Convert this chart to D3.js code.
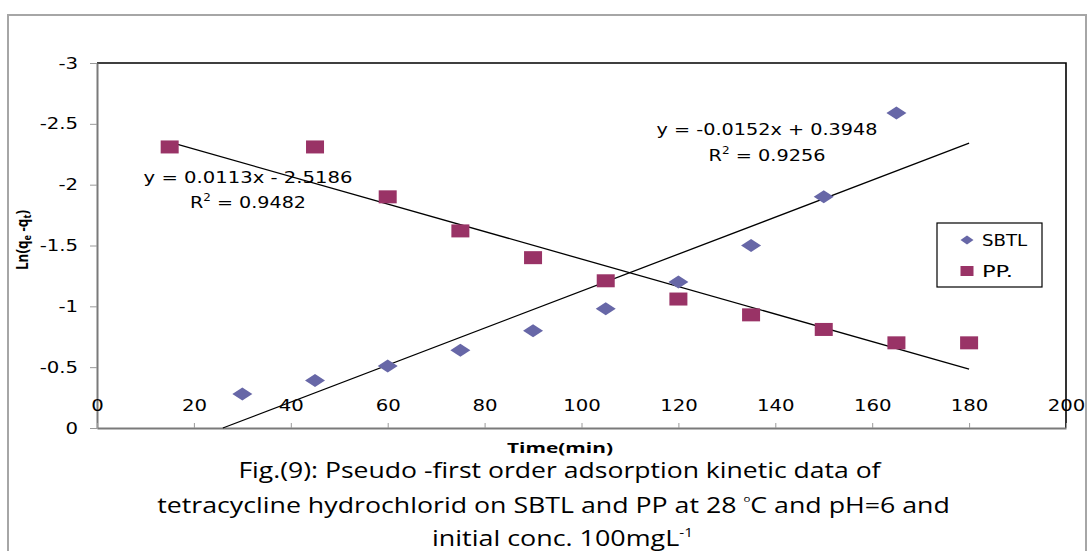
<!DOCTYPE html>
<html>
<head>
<meta charset="utf-8">
<script src="https://cdn.jsdelivr.net/npm/d3@7"></script>
<style>
  body { margin: 0; background: #fff; }
  text { fill: #000; }
</style>
</head>
<body>
<svg width="1087" height="551"></svg>
<script>
// values
const sbtlTime = [30, 45, 60, 75, 90, 105, 120, 135, 150, 165]
const sbtlLn = [-0.28, -0.39, -0.51, -0.64, -0.80, -0.98, -1.20, -1.50, -1.90, -2.59]
const ppTime = [15, 45, 60, 75, 90, 105, 120, 135, 150, 165, 180]
const ppLn = [-2.31, -2.31, -1.90, -1.62, -1.40, -1.21, -1.06, -0.93, -0.81, -0.70, -0.70]

const seriesNames = ['SBTL', 'PP.']
const fitSlope = [-0.0152, 0.0113]
const fitIntercept = [0.3948, -2.5186]
const fitR2 = ['0.9256', '0.9482']
const fitEnd = [180, 180]

const xTicks = [0, 20, 40, 60, 80, 100, 120, 140, 160, 180, 200]
const yTicks = [0, -0.5, -1, -1.5, -2, -2.5, -3]

const svg = d3.select('svg')

const x = d3.scaleLinear().domain([0, 200]).range([97, 1066])
const y = d3.scaleLinear().domain([0, -3]).range([428, 63])

const colors = ['#6767A7', '#993366']

// stretch a text horizontally about its anchor point
const stretch = (sel, k) => sel.each(function () {
    const ax = +this.getAttribute('x') || 0
    d3.select(this).attr('transform', `translate(${ax},0) scale(${k},1) translate(${-ax},0)`)
})
const fit = (sel, width) => sel.each(function () {
    const w = this.getBBox().width
    stretch(d3.select(this), width / w)
})

// outer chart border
svg.append('rect')
    .attr('x', 8).attr('y', 15)
    .attr('width', 1078).attr('height', 600)
    .attr('fill', 'none')
    .attr('stroke', '#a6a6a6')
    .attr('stroke-width', 2)

// plot border (top / right)
svg.append('path')
    .attr('d', `M${x(0)},${y(-3)} H${x(200)} V${y(0)}`)
    .attr('fill', 'none')
    .attr('stroke', '#000')
    .attr('stroke-width', 1.6)

// y axis
const yAxis = svg.append('g')
    .attr('transform', `translate(${x(0)},0)`)
    .call(d3.axisLeft(y).tickValues(yTicks).tickSize(7).tickPadding(12)
        .tickSizeOuter(0).tickFormat(d => String(d)))
yAxis.select('.domain').attr('stroke', '#7a7a7a').attr('stroke-width', 2)
yAxis.selectAll('.tick line').attr('stroke', '#9a9a9a')
yAxis.selectAll('.tick text')
    .attr('font-family', 'DejaVu Sans').attr('font-size', 16).attr('fill', '#000')
    .call(stretch, 1.23)

// x axis: labels sit above the axis line, ticks point inward
const xAxis = svg.append('g')
    .attr('transform', `translate(0,${y(0)})`)
    .call(d3.axisTop(x).tickValues(xTicks).tickSize(5).tickPadding(12).tickSizeOuter(0))
xAxis.select('.domain').attr('stroke', '#7a7a7a').attr('stroke-width', 2)
xAxis.selectAll('.tick line').attr('stroke', '#9a9a9a')
xAxis.selectAll('.tick text')
    .attr('font-family', 'DejaVu Sans').attr('font-size', 16).attr('fill', '#000')
    .call(stretch, 1.23)

// trendlines
const fitLines = fitSlope.map((m, i) => {
    const b = fitIntercept[i]
    const x0 = i === 0 ? -b / m : ppTime[0]
    return [[x0, m * x0 + b], [fitEnd[i], m * fitEnd[i] + b]]
})
svg.append('g')
    .selectAll('path')
    .data(fitLines)
    .join('path')
        .attr('d', d3.line().x(d => x(d[0])).y(d => y(d[1])))
        .attr('stroke', '#000')
        .attr('stroke-width', 1.3)
        .attr('fill', 'none')

// markers
const diamond = (w, h) => `M0,${-h / 2}L${w / 2},0L0,${h / 2}L${-w / 2},0Z`

svg.append('g')
    .selectAll('path')
    .data(sbtlTime.map((t, i) => [t, sbtlLn[i]]))
    .join('path')
        .attr('transform', d => `translate(${x(d[0])},${y(d[1])})`)
        .attr('d', diamond(20, 13))
        .attr('fill', colors[0])

svg.append('g')
    .selectAll('rect')
    .data(ppTime.map((t, i) => [t, ppLn[i]]))
    .join('rect')
        .attr('x', d => x(d[0]) - 9)
        .attr('y', d => y(d[1]) - 6.5)
        .attr('width', 18)
        .attr('height', 13)
        .attr('fill', colors[1])

// equations
const eqText = i => {
    const m = fitSlope[i], b = fitIntercept[i]
    return `y = ${m}x ${b < 0 ? '-' : '+'} ${Math.abs(b)}`
}
const eqPos = [
    { cx: 767, y1: 135, w1: 221, y2: 161, w2: 117 },
    { cx: 248, y1: 183, w1: 209, y2: 208, w2: 116 }
]
eqPos.forEach((p, i) => {
    svg.append('text')
        .attr('x', p.cx).attr('y', p.y1)
        .attr('text-anchor', 'middle')
        .attr('font-family', 'DejaVu Sans').attr('font-size', 16)
        .text(eqText(i))
        .call(fit, p.w1)
    const r = svg.append('text')
        .attr('x', p.cx).attr('y', p.y2)
        .attr('text-anchor', 'middle')
        .attr('font-family', 'DejaVu Sans').attr('font-size', 16)
    r.append('tspan').text('R')
    r.append('tspan').attr('dy', -7).attr('font-size', 10).text('2')
    r.append('tspan').attr('dy', 7).text(` = ${fitR2[i]}`)
    r.call(fit, p.w2)
})

// legend
const legend = svg.append('g')
legend.append('rect')
    .attr('x', 937).attr('y', 223)
    .attr('width', 105).attr('height', 64)
    .attr('fill', '#fff')
    .attr('stroke', '#000')
    .attr('stroke-width', 1.2)
legend.append('path')
    .attr('transform', 'translate(967,240)')
    .attr('d', diamond(13, 9))
    .attr('fill', colors[0])
legend.append('rect')
    .attr('x', 960.5).attr('y', 266)
    .attr('width', 13).attr('height', 10)
    .attr('fill', colors[1])
legend.selectAll('text')
    .data(seriesNames)
    .join('text')
        .attr('x', 982)
        .attr('y', (d, i) => 246 + i * 31)
        .attr('font-family', 'DejaVu Sans').attr('font-size', 15)
        .text(d => d)
        .each(function (d, i) { d3.select(this).call(fit, i === 0 ? 46 : 31) })

// axis titles
svg.append('text')
    .attr('x', 560).attr('y', 453)
    .attr('text-anchor', 'middle')
    .attr('font-family', 'Open Sans').attr('font-weight', 700).attr('font-size', 15)
    .text('Time(min)')
    .call(fit, 106)

const yTitle = svg.append('g')
    .attr('transform', 'translate(28,240) rotate(-90)')
    .append('text')
        .attr('x', 0).attr('y', 0)
        .attr('text-anchor', 'middle')
        .attr('font-family', 'Open Sans').attr('font-weight', 700).attr('font-size', 16)
yTitle.append('tspan').text('Ln(q')
yTitle.append('tspan').attr('dy', 3).attr('font-size', 11).text('e')
yTitle.append('tspan').attr('dy', -3).text(' -q')
yTitle.append('tspan').attr('dy', 3).attr('font-size', 11).text('t')
yTitle.append('tspan').attr('dy', -3).text(')')
yTitle.call(fit, 60)

// caption
const capFont = { family: 'Open Sans', size: 21 }
const cap1 = svg.append('text')
    .attr('x', 559.5).attr('y', 478)
    .attr('text-anchor', 'middle')
    .attr('font-family', capFont.family).attr('font-size', capFont.size)
    .text('Fig.(9): Pseudo -first order adsorption kinetic data of')
cap1.call(fit, 645)

const cap2 = svg.append('text')
    .attr('x', 553.5).attr('y', 513)
    .attr('text-anchor', 'middle')
    .attr('font-family', capFont.family).attr('font-size', capFont.size)
cap2.append('tspan').text('tetracycline hydrochlorid on SBTL and PP at 28 ')
cap2.append('tspan').attr('dy', -11).attr('font-size', 9).text('o')
cap2.append('tspan').attr('dy', 11).text('C and pH=6 and')
cap2.call(fit, 793)

const cap3 = svg.append('text')
    .attr('x', 562.5).attr('y', 546)
    .attr('text-anchor', 'middle')
    .attr('font-family', capFont.family).attr('font-size', capFont.size)
cap3.append('tspan').text('initial conc. 100mgL')
cap3.append('tspan').attr('dy', -9).attr('font-size', 12).text('-1')
cap3.call(fit, 261)
</script>
</body>
</html>
